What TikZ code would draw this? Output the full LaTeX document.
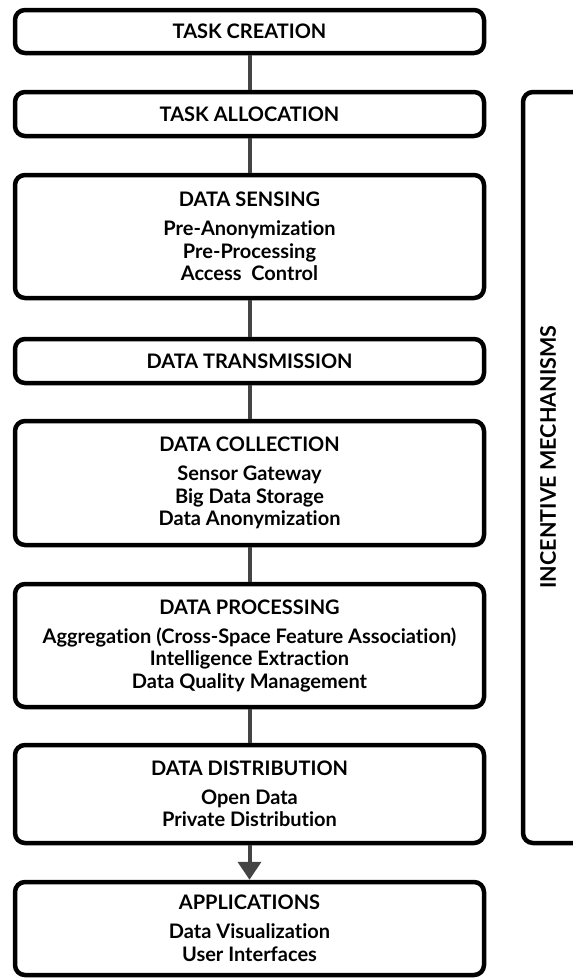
\documentclass[tikz,border=0pt]{standalone}
\usepackage{fontspec}
\setmainfont{Lato}[Ligatures=NoCommon]
\usetikzlibrary{arrows.meta}
\definecolor{linkgray}{HTML}{444444}
\newcommand{\stagetitle}[1]{{\fontsize{20}{22}\selectfont #1}}
\begin{document}
\begin{tikzpicture}[x=1pt,y=-1pt,
  stagebox/.style={draw=black, line width=4.5pt, rounded corners=10pt,
    minimum width=469pt, align=center, inner sep=0pt,
    font=\bfseries\fontsize{20}{22.5}\selectfont},
  link/.style={draw=linkgray, line width=4pt},
  sidebox/.style={draw=black, line width=4.5pt, rounded corners=10pt}]
\useasboundingbox (0,0) rectangle (573,980);
\clip (0,0) rectangle (573,980);

\node[stagebox, minimum height=43pt] (tc) at (249.5,31.5) {\stagetitle{TASK CREATION}};
\node[stagebox, minimum height=44pt] (ta) at (249.5,114) {\stagetitle{TASK ALLOCATION}};
\node[stagebox, minimum height=123pt] (ds) at (249.5,236.5)
  {\stagetitle{DATA SENSING}\\[6.5pt] Pre-Anonymization\\ Pre-Processing\\ Access\ \ Control};
\node[stagebox, minimum height=44pt] (dt) at (249.5,361) {\stagetitle{DATA TRANSMISSION}};
\node[stagebox, minimum height=124pt] (dc) at (249.5,483)
  {\stagetitle{DATA COLLECTION}\\[6.5pt] Sensor Gateway\\ Big Data Storage\\ Data Anonymization};
\node[stagebox, minimum height=123pt] (dp) at (249.5,645.5)
  {\stagetitle{DATA PROCESSING}\\[6.5pt] Aggregation (Cross-Space Feature Association)\\ Intelligence Extraction\\ Data Quality Management};
\node[stagebox, minimum height=98pt] (dd) at (249.5,794)
  {\stagetitle{DATA DISTRIBUTION}\\[6.5pt] Open Data\\ Private Distribution};
\node[stagebox, minimum height=93pt] (ap) at (249.5,928.5)
  {\stagetitle{APPLICATIONS}\\[6.5pt] Data Visualization\\ User Interfaces};

% incentive frame running past the right edge
\draw[sidebox] (523,92) rectangle (620,843);
\node[rotate=90, font=\bfseries\fontsize{21.5}{24}\selectfont] (im) at (548,457) {INCENTIVE MECHANISMS};

\draw[link] (tc.south) -- (ta.north);
\draw[link] (ta.south) -- (ds.north);
\draw[link] (ds.south) -- (dt.north);
\draw[link] (dt.south) -- (dc.north);
\draw[link] (dc.south) -- (dp.north);
\draw[link] (dp.south) -- (dd.north);
\draw[link, -{Triangle[width=23pt,length=18pt]}] (dd.south) -- (ap.north);
\end{tikzpicture}
\end{document}
